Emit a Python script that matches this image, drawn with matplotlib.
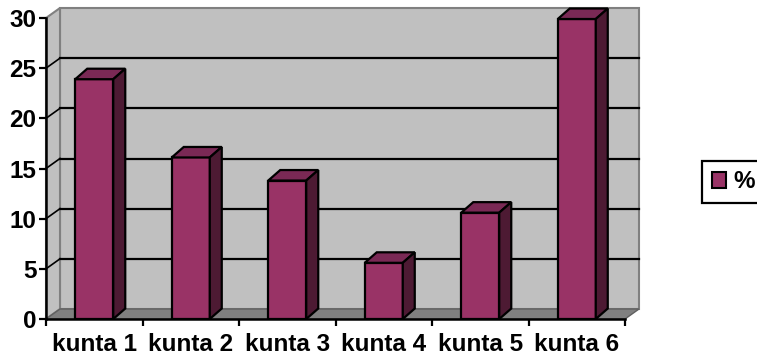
import matplotlib.pyplot as plt
import numpy as np
from matplotlib.patches import Polygon, Patch

plt.rcParams['font.family'] = ['Liberation Sans', 'DejaVu Sans']
plt.rcParams['font.weight'] = 'bold'

categories = ['kunta 1', 'kunta 2', 'kunta 3', 'kunta 4', 'kunta 5', 'kunta 6']
values = [23.9, 16.1, 13.8, 5.6, 10.6, 29.9]
series_name = '%'
yticks = [0, 5, 10, 15, 20, 25, 30]

face = '#993366'
top_face = '#7a2955'
side_face = '#4d1a33'
wall = '#c0c0c0'
wall_edge = '#808080'

fig = plt.figure(figsize=(7.57, 3.6), dpi=100)
ax = fig.add_axes([46/757, 41/360, 579/757, 301/360])
ax.set_xlim(0, 6)
ax.set_ylim(0, 30)
ax.set_facecolor('none')

# depth of the walls and of the bars, in data units
ddx, ddy = 14 * 6 / 579, 10 * 30 / 301
bdx, bdy = 12 * 6 / 579, 10.5 * 30 / 301
n = len(categories)

def poly(pts, fc, ec, lw, z):
    ax.add_patch(Polygon(pts, closed=True, facecolor=fc, edgecolor=ec,
                         linewidth=lw, zorder=z, clip_on=False))

# back wall, side wall, floor
poly([(ddx, ddy), (n + ddx, ddy), (n + ddx, 30 + ddy), (ddx, 30 + ddy)], wall, wall_edge, 1.5, 0)
poly([(0, 0), (ddx, ddy), (ddx, 30 + ddy), (0, 30)], wall, wall_edge, 1.5, 0.5)
poly([(0, 0), (n, 0), (n + ddx, ddy), (ddx, ddy)], wall_edge, '#606060', 1.0, 0.6)

# gridlines on the walls
for v in yticks[1:-1]:
    ax.plot([ddx, n + ddx], [v + ddy, v + ddy], color='black', lw=1.6, zorder=1, clip_on=False)
    ax.plot([0, ddx], [v, v + ddy], color='black', lw=1.2, zorder=1, clip_on=False)

# bars: front face through ax.bar, top and side faces from the same values
x = np.arange(n) + 0.5
w = 0.394
ax.bar(x, values, width=w, color=face, edgecolor='black', linewidth=1.6, zorder=3)
for xi, v in zip(x, values):
    l, r = xi - w / 2, xi + w / 2
    poly([(l, v), (r, v), (r + bdx, v + bdy), (l + bdx, v + bdy)], top_face, 'black', 1.6, 3)
    poly([(r, 0), (r + bdx, bdy), (r + bdx, v + bdy), (r, v)], side_face, 'black', 1.6, 3)

for s in ['top', 'right']:
    ax.spines[s].set_visible(False)
for s in ['left', 'bottom']:
    ax.spines[s].set_linewidth(1.8)
    ax.spines[s].set_zorder(4)

ax.set_yticks(yticks)
ax.set_yticklabels([str(t) for t in yticks], fontsize=17.5, fontweight='bold')
ax.tick_params(axis='y', length=5, width=1.6, pad=2)

ax.set_xticks(np.arange(n + 1))
ax.set_xticklabels([])
ax.tick_params(axis='x', which='major', length=5, width=1.6)
ax.set_xticks(x, minor=True)
ax.set_xticklabels(categories, minor=True, fontsize=17.5, fontweight='bold')
ax.tick_params(axis='x', which='minor', length=0, pad=10)

leg = fig.legend(handles=[Patch(facecolor=face, edgecolor='black', linewidth=1.5)],
                 labels=[series_name], loc='center left',
                 bbox_to_anchor=(702/757, 1 - 182/360), fancybox=False,
                 edgecolor='black', framealpha=1, prop={'size': 17.5, 'weight': 'bold'},
                 handlelength=0.6, handleheight=0.6, handletextpad=0.3,
                 borderpad=0.4, borderaxespad=0)
leg.get_frame().set_linewidth(1.6)

fig.savefig('out.png', dpi=100)
